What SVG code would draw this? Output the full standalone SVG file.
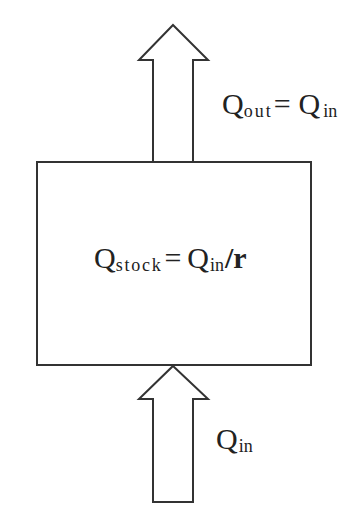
<svg xmlns="http://www.w3.org/2000/svg" width="359" height="522" viewBox="0 0 359 522">
<style>
.shape{fill:#fff;stroke:#333;stroke-width:2;stroke-linejoin:miter}
.t{font-family:"Liberation Serif","DejaVu Serif","Times New Roman",serif;fill:#222}
.big{font-size:30px}
.sub{font-size:18px}
</style>
<rect width="359" height="522" fill="#fff"/>
<g id="connectors">
<polygon id="arrow-out" class="shape" points="173,25 208,60 193,60 193,162 153,162 153,60 139,60"/>
<polygon id="arrow-in" class="shape" points="173,366 208,399 193,399 193,502 153,502 153,399 139,399"/>
</g>
<g id="stock">
<rect class="shape" x="37" y="162" width="274" height="203"/>
<text class="t" x="94" y="268"><tspan class="big">Q</tspan><tspan class="sub" dy="3" textLength="45" lengthAdjust="spacing">stock</tspan><tspan class="big" dy="-3" dx="2">=</tspan><tspan class="big" dx="6">Q</tspan><tspan class="sub" dy="3" dx="1">in</tspan><tspan class="big" dy="-3" dx="1" font-weight="bold">/r</tspan></text>
</g>
<g id="label-out">
<text class="t" x="222" y="114"><tspan class="big">Q</tspan><tspan class="sub" dy="3" textLength="27" lengthAdjust="spacing">out</tspan><tspan class="big" dy="-3" dx="1">=</tspan><tspan class="big" dx="8">Q</tspan><tspan class="sub" dy="3" dx="3">in</tspan></text>
</g>
<g id="label-in">
<text class="t" x="216" y="449"><tspan class="big">Q</tspan><tspan class="sub" dy="3" dx="1">in</tspan></text>
</g>
</svg>
